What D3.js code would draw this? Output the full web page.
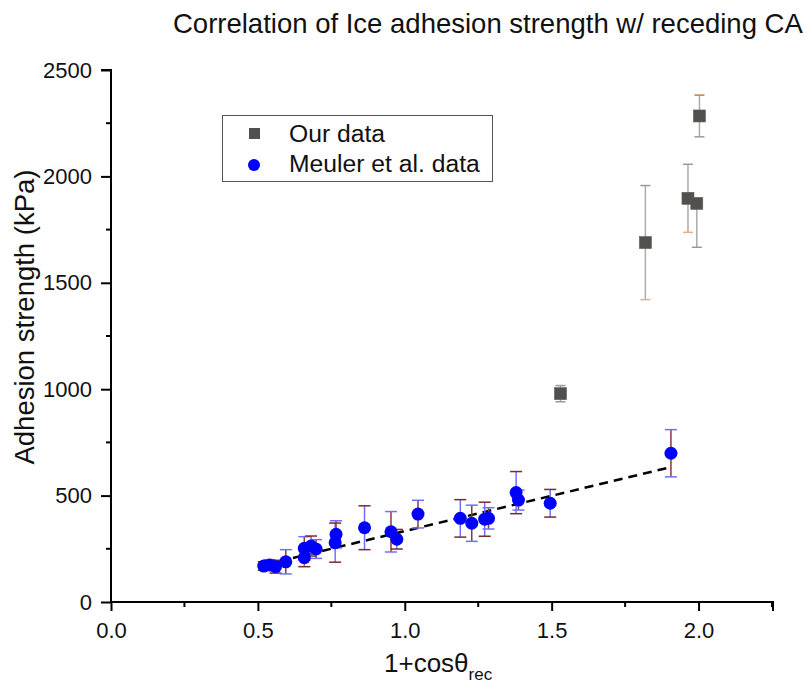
<!DOCTYPE html>
<html>
<head>
<meta charset="utf-8">
<script src="https://cdn.jsdelivr.net/npm/d3@7"></script>
<style>
  body { margin: 0; background: #fff; }
  svg { display: block; font-family: Arial, "Liberation Sans", sans-serif; }
</style>
</head>
<body>
<div id="chart"></div>
<script>
// Meuler et al. data (blue circles)
const meulerX = [0.52, 0.54, 0.56, 0.595, 0.658, 0.658, 0.681, 0.698, 0.763, 0.766, 0.863, 0.953, 0.973, 1.045, 1.189, 1.228, 1.272, 1.285, 1.379, 1.387, 1.495, 1.906]
const meulerY = [169, 174, 166, 189, 208, 252, 263, 249, 279, 318, 349, 330, 295, 413, 393, 370, 389, 393, 514, 479, 464, 699]
const meulerErr = [20, 25, 30, 57, 42, 55, 47, 44, 92, 64, 103, 95, 46, 65, 88, 85, 80, 50, 99, 47, 65, 111]

// Our data (gray squares)
const ourX = [1.530, 1.819, 1.964, 1.994, 2.003]
const ourY = [979, 1689, 1897, 1873, 2284]
const ourErrPlus = [38, 268, 160, 0, 98]
const ourErrMinus = [38, 268, 160, 206, 98]

// linear fit on Meuler data
const fitX = [0.52, 1.906]
const fitY = [174, 634]

const xTicks = [0, 0.5, 1.0, 1.5, 2.0]
const yTicks = [0, 500, 1000, 1500, 2000, 2500]

const W = 810, H = 690
const svg = d3.select('#chart').append('svg').attr('width', W).attr('height', H)

const x = d3.scaleLinear().domain([0, 2.25]).range([111, 772])
const y = d3.scaleLinear().domain([0, 2500]).range([602, 70])

// Title
svg.append('text')
  .attr('x', 173).attr('y', 33)
  .style('font-size', '27.5px').style('fill', '#111')
  .text('Correlation of Ice adhesion strength w/ receding CA')

// Axes
const xAxis = d3.axisBottom(x).tickValues(xTicks).tickFormat(d3.format('.1f')).tickSize(9).tickPadding(11)
const yAxis = d3.axisLeft(y).tickValues(yTicks).tickFormat(d3.format('d')).tickSize(10).tickPadding(9)

const gx = svg.append('g').attr('transform', `translate(0,${y(0)})`).call(xAxis)
const gy = svg.append('g').attr('transform', `translate(${x(0)},0)`).call(yAxis)

// minor ticks
svg.append('g').selectAll('line').data(d3.range(0.25, 2.26, 0.5)).join('line')
  .attr('x1', d => x(d)).attr('x2', d => x(d))
  .attr('y1', y(0)).attr('y2', y(0) + 5)
  .attr('stroke', '#000').attr('stroke-width', 2)
svg.append('g').selectAll('line').data(d3.range(250, 2500, 500)).join('line')
  .attr('x1', x(0)).attr('x2', x(0) - 5)
  .attr('y1', d => y(d)).attr('y2', d => y(d))
  .attr('stroke', '#000').attr('stroke-width', 2)

for (const g of [gx, gy]) {
  g.select('.domain').attr('stroke', '#000').attr('stroke-width', 2)
  g.selectAll('.tick line').attr('stroke', '#000').attr('stroke-width', 2)
  g.selectAll('.tick text').style('font-size', '22px').style('fill', '#111')
    .style('font-family', 'Arial, "Liberation Sans", sans-serif')
}
gx.select('.domain').attr('d', `M${x(0)},0H${x(2.25) + 1}V9`)
gy.select('.domain').attr('d', `M-10,${y(2500)}H0V${y(0)}`)

// Axis labels
svg.append('text')
  .attr('transform', `translate(34,317) rotate(-90)`)
  .attr('text-anchor', 'middle')
  .style('font-size', '27.5px').style('fill', '#111')
  .text('Adhesion strength (kPa)')

const xl = svg.append('text')
  .attr('x', 384).attr('y', 672)
  .style('font-size', '26px').style('fill', '#111')
xl.append('tspan').text('1+cosθ')
xl.append('tspan').attr('dy', 8).style('font-size', '17px').text('rec')

// Fit line
svg.append('line')
  .attr('x1', x(fitX[0])).attr('y1', y(fitY[0]))
  .attr('x2', x(fitX[1])).attr('y2', y(fitY[1]))
  .attr('stroke', '#000').attr('stroke-width', 2.5)
  .attr('stroke-dasharray', '9,6')

// Meuler error bars
const meuler = meulerX.map((v, i) => ({ x: v, y: meulerY[i], e: meulerErr[i], i }))
const ebM = svg.append('g').selectAll('g').data(meuler).join('g')
ebM.append('line')
  .attr('x1', d => x(d.x)).attr('x2', d => x(d.x))
  .attr('y1', d => y(d.y + d.e)).attr('y2', d => y(d.y - d.e))
  .attr('stroke', d => d.i % 2 ? '#8a3a3a' : '#6f6fff').attr('stroke-width', 1.5)
for (const s of [1, -1]) {
  ebM.append('line')
    .attr('x1', d => x(d.x) - 6).attr('x2', d => x(d.x) + 6)
    .attr('y1', d => y(d.y + s * d.e)).attr('y2', d => y(d.y + s * d.e))
    .attr('stroke', d => d.i % 2 ? '#6f6fff' : '#7a2a2a').attr('stroke-width', 1.5)
}

// Our data error bars
const ours = ourX.map((v, i) => ({ x: v, y: ourY[i], p: ourErrPlus[i], m: ourErrMinus[i], i }))
const ebO = svg.append('g').selectAll('g').data(ours).join('g')
ebO.append('line')
  .attr('x1', d => x(d.x)).attr('x2', d => x(d.x))
  .attr('y1', d => y(d.y + d.p)).attr('y2', d => y(d.y - d.m))
  .attr('stroke', '#aaa').attr('stroke-width', 1.5)
ebO.filter(d => d.p > 0).append('line')
  .attr('x1', d => x(d.x) - 5).attr('x2', d => x(d.x) + 5)
  .attr('y1', d => y(d.y + d.p)).attr('y2', d => y(d.y + d.p))
  .attr('stroke', d => d.i === 4 ? '#c08040' : '#999').attr('stroke-width', 1.5)
ebO.append('line')
  .attr('x1', d => x(d.x) - 5).attr('x2', d => x(d.x) + 5)
  .attr('y1', d => y(d.y - d.m)).attr('y2', d => y(d.y - d.m))
  .attr('stroke', d => (d.i === 1 || d.i === 2) ? '#e8b080' : '#999').attr('stroke-width', 1.5)

// Markers
svg.append('g').selectAll('circle').data(meuler).join('circle')
  .attr('cx', d => x(d.x)).attr('cy', d => y(d.y)).attr('r', 6.5)
  .attr('fill', '#0000ff')

svg.append('g').selectAll('rect').data(ours).join('rect')
  .attr('x', d => x(d.x) - 6).attr('y', d => y(d.y) - 6)
  .attr('width', 12).attr('height', 12)
  .attr('fill', '#505050').attr('stroke', '#6a5a4a').attr('stroke-width', 0.6)

// Legend
const lg = svg.append('g')
lg.append('rect').attr('x', 222.5).attr('y', 115.5).attr('width', 270).attr('height', 66)
  .attr('fill', '#fff').attr('stroke', '#555').attr('stroke-width', 1)
lg.append('rect').attr('x', 249).attr('y', 128).attr('width', 11).attr('height', 11).attr('fill', '#505050')
lg.append('circle').attr('cx', 254).attr('cy', 165).attr('r', 6).attr('fill', '#0000ff')
lg.append('text').attr('x', 289).attr('y', 141.5).style('font-size', '24.7px').style('fill', '#111').text('Our data')
lg.append('text').attr('x', 289).attr('y', 171.5).style('font-size', '24.7px').style('fill', '#111').text('Meuler et al. data')
</script>
</body>
</html>
